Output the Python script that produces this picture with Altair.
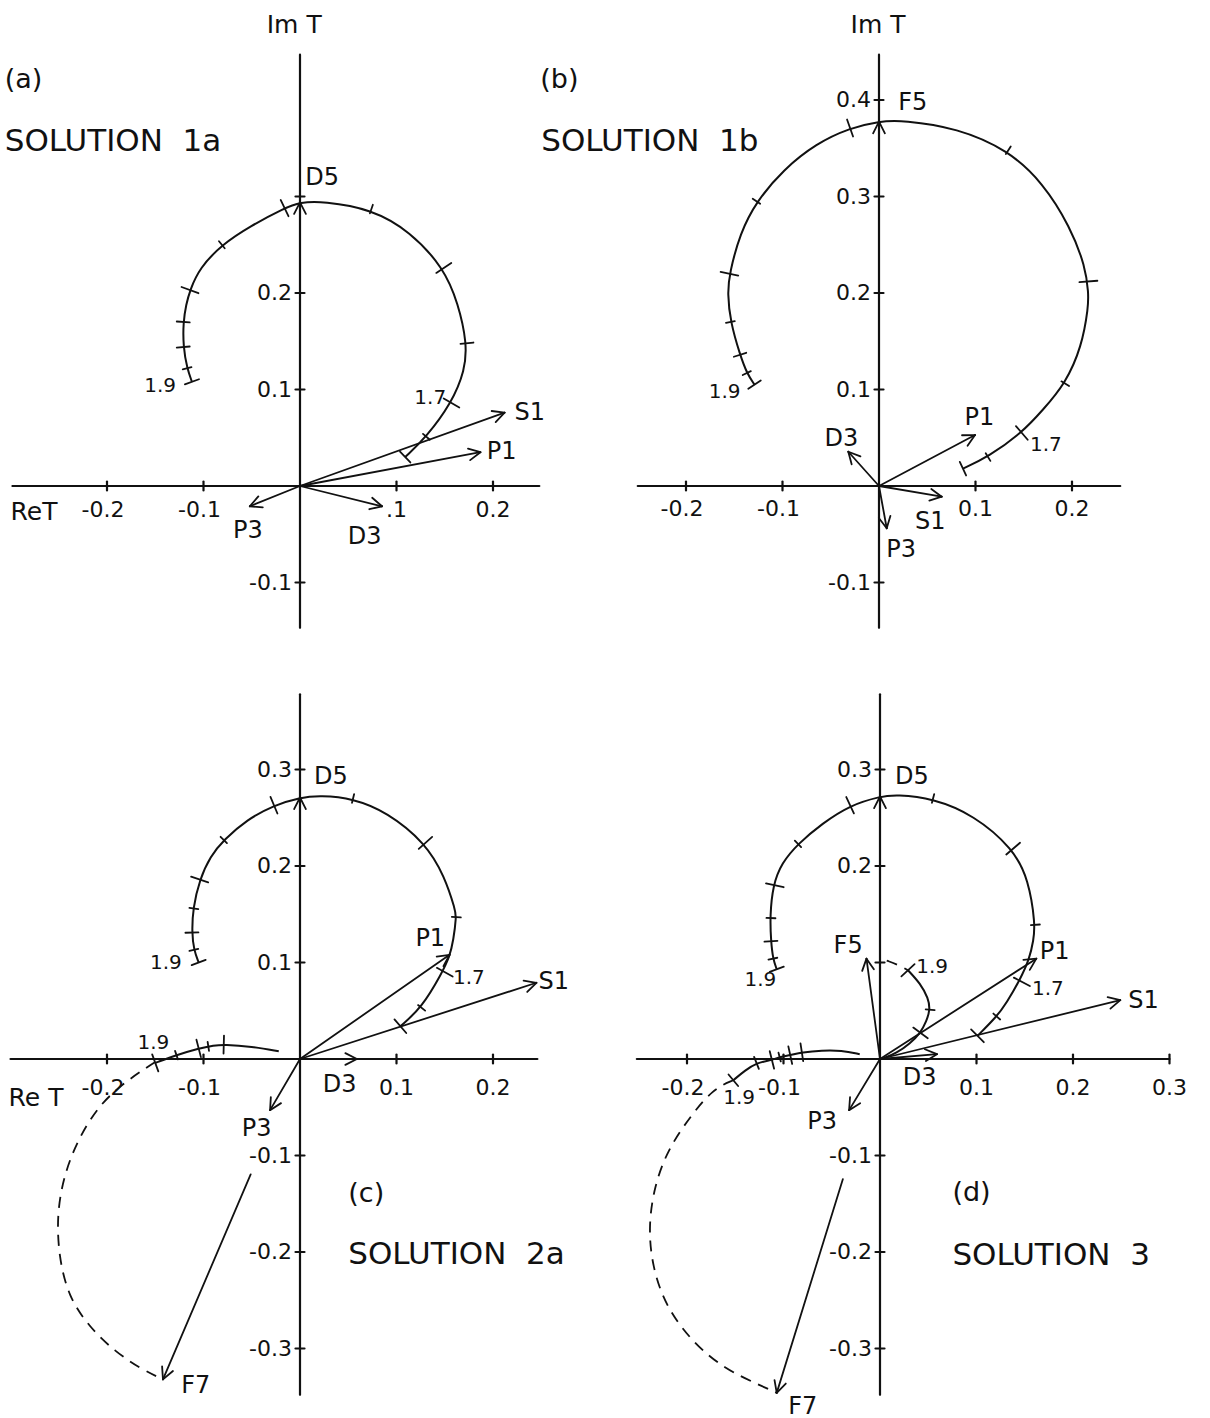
import math
import numpy as np
import pandas as pd
import altair as alt

PX = 965.0            # screen pixels per unit of T (same on both axes)
FONT = "DejaVu Sans"
INK = "#111111"

# ---------------- (a) SOLUTION 1a ----------------
a_xaxis = [-0.298, 0.248]
a_yaxis = [-0.147, 0.447]
a_xtick = [-0.2, -0.1, 0.1, 0.2]
a_xlab = ["-0.2", "-0.1", ".1", "0.2"]
a_ytick = [-0.1, 0.1, 0.2, 0.3]
a_ylab = ["-0.1", "0.1", "0.2", ""]

a_curve_x = [-0.112, -0.117, -0.121, -0.121, -0.118, -0.114, -0.104, -0.081, -0.052, -0.016, 0.000,
             0.024, 0.074, 0.114, 0.149, 0.164, 0.173, 0.171, 0.157, 0.131, 0.109]
a_curve_y = [0.108, 0.122, 0.144, 0.170, 0.188, 0.203, 0.226, 0.250, 0.269, 0.288, 0.294,
             0.295, 0.287, 0.264, 0.226, 0.189, 0.148, 0.120, 0.086, 0.051, 0.030]
a_tick_x = [-0.112, -0.117, -0.121, -0.121, -0.114, -0.081, -0.016, 0.074, 0.149, 0.173, 0.157, 0.131, 0.109]
a_tick_y = [0.108, 0.122, 0.144, 0.170, 0.203, 0.250, 0.288, 0.287, 0.226, 0.148, 0.086, 0.051, 0.030]
a_tick_k = ["e", "s", "m", "m", "l", "s", "l", "s", "l", "m", "l", "s", "e"]

a_vec_name = ["S1", "P1", "P3", "D3", "D5"]
a_vec_x = [0.212, 0.187, -0.052, 0.085, 0.000]
a_vec_y = [0.076, 0.035, -0.021, -0.021, 0.294]

a_vl_text = ["S1", "P1", "P3", "D3", "D5"]
a_vl_x = [0.238, 0.209, -0.054, 0.067, 0.023]
a_vl_y = [0.076, 0.035, -0.047, -0.053, 0.319]
a_el_text = ["1.9", "1.7"]
a_el_x = [-0.145, 0.135]
a_el_y = [0.104, 0.091]

# ---------------- (b) SOLUTION 1b ----------------
b_xaxis = [-0.250, 0.250]
b_yaxis = [-0.147, 0.447]
b_xtick = [-0.2, -0.1, 0.1, 0.2]
b_xlab = ["-0.2", "-0.1", "0.1", "0.2"]
b_ytick = [-0.1, 0.1, 0.2, 0.3, 0.4]
b_ylab = ["-0.1", "0.1", "0.2", "0.3", "0.4"]

b_curve_x = [-0.129, -0.137, -0.144, -0.154, -0.157, -0.155, -0.144, -0.127, -0.099, -0.065, -0.030, 0.000, 0.025,
             0.081, 0.134, 0.170, 0.198, 0.214, 0.217, 0.217, 0.210, 0.193, 0.170, 0.148, 0.113, 0.087]
b_curve_y = [0.105, 0.117, 0.136, 0.170, 0.200, 0.220, 0.262, 0.295, 0.328, 0.355, 0.371, 0.378, 0.379,
             0.371, 0.348, 0.314, 0.269, 0.227, 0.200, 0.186, 0.144, 0.106, 0.079, 0.055, 0.030, 0.018]
b_tick_x = [-0.129, -0.137, -0.144, -0.154, -0.155, -0.127, -0.030, 0.134, 0.217, 0.193, 0.148, 0.113, 0.087]
b_tick_y = [0.105, 0.117, 0.136, 0.170, 0.220, 0.295, 0.371, 0.348, 0.212, 0.106, 0.055, 0.030, 0.018]
b_tick_k = ["e", "s", "m", "s", "l", "s", "l", "s", "l", "s", "l", "s", "e"]

b_vec_name = ["F5", "P1", "D3", "S1", "P3"]
b_vec_x = [0.000, 0.0995, -0.0318, 0.065, 0.008]
b_vec_y = [0.3775, 0.0528, 0.0355, -0.0111, -0.0438]

b_vl_text = ["F5", "P1", "D3", "S1", "P3"]
b_vl_x = [0.035, 0.104, -0.039, 0.053, 0.023]
b_vl_y = [0.397, 0.070, 0.049, -0.037, -0.066]
b_el_text = ["1.9", "1.7"]
b_el_x = [-0.160, 0.173]
b_el_y = [0.097, 0.042]

# ---------------- (c) SOLUTION 2a ----------------
c_xaxis = [-0.300, 0.246]
c_yaxis = [-0.348, 0.378]
c_xtick = [-0.2, -0.1, 0.1, 0.2]
c_xlab = ["-0.2", "-0.1", "0.1", "0.2"]
c_ytick = [-0.3, -0.2, -0.1, 0.1, 0.2, 0.3]
c_ylab = ["-0.3", "-0.2", "-0.1", "0.1", "0.2", "0.3"]

c_curve_x = [-0.105, -0.110, -0.112, -0.111, -0.104, -0.093, -0.079, -0.055, -0.027, 0.000, 0.021,
             0.055, 0.090, 0.130, 0.150, 0.161, 0.162, 0.159, 0.155, 0.147, 0.126, 0.104]
c_curve_y = [0.100, 0.113, 0.131, 0.156, 0.186, 0.210, 0.227, 0.248, 0.263, 0.271, 0.273,
             0.270, 0.256, 0.224, 0.189, 0.154, 0.148, 0.123, 0.106, 0.089, 0.053, 0.034]
c_tick_x = [-0.105, -0.110, -0.112, -0.110, -0.104, -0.079, -0.027, 0.055, 0.130, 0.162, 0.150, 0.126, 0.104]
c_tick_y = [0.100, 0.113, 0.131, 0.156, 0.186, 0.227, 0.263, 0.270, 0.224, 0.147, 0.090, 0.053, 0.034]
c_tick_k = ["e", "s", "m", "s", "l", "s", "l", "s", "l", "s", "l", "s", "l"]

# low branch near the real axis, solid part and dashed continuation to F7
c_low_x = [-0.150, -0.128, -0.105, -0.089, -0.079, -0.050, -0.022]
c_low_y = [-0.004, 0.004, 0.011, 0.014, 0.015, 0.013, 0.008]
c_low_tx = [-0.150, -0.128, -0.105, -0.095, -0.079]
c_low_ty = [-0.004, 0.004, 0.011, 0.013, 0.015]
c_low_tk = ["l", "s", "l", "s", "l"]
c_dash_x = [-0.150, -0.179, -0.207, -0.229, -0.244, -0.252, -0.250, -0.240, -0.219, -0.192, -0.165, -0.142]
c_dash_y = [-0.003, -0.022, -0.046, -0.081, -0.118, -0.160, -0.205, -0.246, -0.277, -0.303, -0.321, -0.332]

c_vec_name = ["D5", "P1", "S1", "D3", "P3", "F7"]
c_vec_x = [0.000, 0.155, 0.245, 0.059, -0.031, -0.142]
c_vec_y = [0.271, 0.108, 0.079, 0.000, -0.053, -0.332]

c_vl_text = ["D5", "P1", "S1", "D3", "P3", "F7"]
c_vl_x = [0.032, 0.135, 0.263, 0.041, -0.045, -0.108]
c_vl_y = [0.292, 0.124, 0.080, -0.027, -0.073, -0.339]
c_el_text = ["1.9", "1.9", "1.7"]
c_el_x = [-0.139, -0.152, 0.175]
c_el_y = [0.099, 0.017, 0.084]

# ---------------- (d) SOLUTION 3 ----------------
d_xaxis = [-0.252, 0.300]
d_yaxis = [-0.348, 0.378]
d_xtick = [-0.2, -0.1, 0.1, 0.2, 0.3]
d_xlab = ["-0.2", "-0.1", "0.1", "0.2", "0.3"]
d_ytick = [-0.3, -0.2, -0.1, 0.1, 0.2, 0.3]
d_ylab = ["-0.3", "-0.2", "-0.1", "", "0.2", "0.3"]

d_curve_x = [-0.107, -0.111, -0.113, -0.114, -0.111, -0.102, -0.085, -0.060, -0.031, 0.000, 0.017,
             0.055, 0.097, 0.138, 0.154, 0.161, 0.159, 0.155, 0.145, 0.131, 0.121, 0.101]
d_curve_y = [0.093, 0.104, 0.123, 0.148, 0.180, 0.203, 0.223, 0.244, 0.263, 0.272, 0.274,
             0.270, 0.253, 0.218, 0.186, 0.139, 0.123, 0.104, 0.082, 0.058, 0.044, 0.024]
d_tick_x = [-0.107, -0.111, -0.113, -0.113, -0.109, -0.085, -0.031, 0.055, 0.138, 0.161, 0.147, 0.121, 0.101]
d_tick_y = [0.093, 0.104, 0.122, 0.146, 0.180, 0.223, 0.263, 0.270, 0.218, 0.139, 0.080, 0.044, 0.024]
d_tick_k = ["e", "s", "m", "s", "l", "s", "l", "s", "l", "s", "l", "s", "l"]

d_low_x = [-0.152, -0.140, -0.128, -0.112, -0.104, -0.093, -0.081, -0.060, -0.040, -0.021]
d_low_y = [-0.022, -0.012, -0.004, -0.001, 0.002, 0.004, 0.007, 0.009, 0.009, 0.005]
d_low_tx = [-0.152, -0.128, -0.112, -0.104, -0.093, -0.081]
d_low_ty = [-0.022, -0.004, -0.001, 0.002, 0.004, 0.007]
d_low_tk = ["e", "m", "l", "s", "l", "l"]
d_dash_x = [-0.152, -0.173, -0.197, -0.220, -0.234, -0.240, -0.236, -0.222, -0.193, -0.161, -0.129, -0.107]
d_dash_y = [-0.022, -0.031, -0.060, -0.094, -0.132, -0.174, -0.215, -0.257, -0.295, -0.321, -0.336, -0.346]

# small loop near the origin (F5 trajectory)
d_loop_x = [0.029, 0.042, 0.050, 0.052, 0.048, 0.042, 0.031, 0.017, 0.004]
d_loop_y = [0.092, 0.078, 0.063, 0.051, 0.039, 0.027, 0.016, 0.006, 0.001]
d_loop_tx = [0.029, 0.052, 0.042]
d_loop_ty = [0.092, 0.051, 0.027]
d_loop_tk = ["l", "s", "l"]
d_loopdash_x = [0.007, 0.018, 0.029]
d_loopdash_y = [0.102, 0.098, 0.092]

d_vec_name = ["D5", "P1", "S1", "F5", "D3", "P3", "F7"]
d_vec_x = [0.000, 0.162, 0.249, -0.014, 0.059, -0.032, -0.107]
d_vec_y = [0.272, 0.104, 0.061, 0.104, 0.005, -0.053, -0.346]

d_vl_text = ["D5", "P1", "S1", "F5", "D3", "P3", "F7"]
d_vl_x = [0.033, 0.181, 0.273, -0.033, 0.041, -0.060, -0.080]
d_vl_y = [0.292, 0.111, 0.060, 0.117, -0.020, -0.065, -0.361]
d_el_text = ["1.7", "1.9", "1.9", "1.9"]
d_el_x = [0.174, 0.054, -0.124, -0.146]
d_el_y = [0.073, 0.095, 0.082, -0.040]

# F7 arrows are drawn only over their outer part
VEC_FROM = {"F7": 0.36}

# ---------------- geometry helpers ----------------
HALF = {"s": 4.5, "m": 6.5, "l": 9.0, "e": 7.5}   # half-length of curve ticks, px


def normal_at(cx, cy, px, py):
    pts = np.column_stack([cx, cy])
    i = int(np.argmin(np.hypot(pts[:, 0] - px, pts[:, 1] - py)))
    a = pts[max(i - 1, 0)]
    b = pts[min(i + 1, len(pts) - 1)]
    t = (b - a) / np.hypot(*(b - a))
    return np.array([-t[1], t[0]])


def tick_rows(cx, cy, tx, ty, kinds):
    rows = []
    for px_, py_, k in zip(tx, ty, kinds):
        n = normal_at(cx, cy, px_, py_) * HALF[k] / PX
        rows.append((px_ - n[0], py_ - n[1], px_ + n[0], py_ + n[1]))
    return rows


def axis_rows(xr, yr, xt, yt):
    h = 4.5 / PX
    rows = [(xr[0], 0.0, xr[1], 0.0), (0.0, yr[0], 0.0, yr[1])]
    rows += [(v, -h, v, h) for v in xt]
    rows += [(-h, v, h, v) for v in yt]
    return rows


def vector_rows(names, vx, vy):
    shafts, heads = [], []
    length, ang = 13.0 / PX, math.radians(27)
    for n, x1, y1 in zip(names, vx, vy):
        f = VEC_FROM.get(n, 0.0)
        shafts.append((x1 * f, y1 * f, x1, y1))
        d = np.array([x1, y1]) / math.hypot(x1, y1)
        for s in (1, -1):
            c, si = math.cos(s * ang), math.sin(s * ang)
            r = np.array([d[0] * c - d[1] * si, d[0] * si + d[1] * c])
            heads.append((x1, y1, x1 - r[0] * length, y1 - r[1] * length))
    return shafts, heads


# ---------------- panel builder ----------------
def panel(p):
    W, H = p["size"]
    ox, oy = p["origin"]
    xs = alt.Scale(domain=[-ox / PX, (W - ox) / PX], nice=False, zero=False)
    ys = alt.Scale(domain=[-(H - oy) / PX, oy / PX], nice=False, zero=False)

    def enc(**extra):
        return dict(x=alt.X("x:Q", scale=xs, axis=None),
                    y=alt.Y("y:Q", scale=ys, axis=None), **extra)

    def rules(rows, width):
        df = pd.DataFrame(rows, columns=["x", "y", "x2", "y2"])
        return alt.Chart(df).mark_rule(color=INK, strokeWidth=width, strokeCap="round").encode(
            **enc(x2=alt.X2("x2"), y2=alt.Y2("y2")))

    def lines(curves, dash=None, width=2.0):
        rows = []
        for cid, (cx, cy) in enumerate(curves):
            for i, (a, b) in enumerate(zip(cx, cy)):
                rows.append((a, b, i, cid))
        df = pd.DataFrame(rows, columns=["x", "y", "i", "cid"])
        kw = dict(color=INK, strokeWidth=width, interpolate="basis")
        if dash:
            kw["strokeDash"] = dash
        return alt.Chart(df).mark_line(**kw).encode(
            **enc(order=alt.Order("i:Q"), detail=alt.Detail("cid:N")))

    def texts(t, x, y, size, align="center", dx=0, dy=0):
        df = pd.DataFrame({"t": t, "x": x, "y": y})
        return alt.Chart(df).mark_text(font=FONT, fontSize=size, align=align, baseline="middle",
                                       dx=dx, dy=dy, color=INK).encode(**enc(text="t:N"))

    layers = [rules(axis_rows(p["xaxis"], p["yaxis"], p["xtick"], p["ytick"]), 2.2)]
    layers.append(lines(p["solid"]))
    if p.get("dashed"):
        layers.append(lines(p["dashed"], dash=[11, 8], width=1.8))
    trows = []
    for cx, cy, tx, ty, tk in p["ticks"]:
        trows += tick_rows(cx, cy, tx, ty, tk)
    layers.append(rules(trows, 1.8))
    shafts, heads = vector_rows(*p["vectors"])
    layers.append(rules(shafts, 1.8))
    layers.append(rules(heads, 1.8))

    # axis numbers
    neg = [(v, s) for v, s in zip(p["xtick"], p["xlab"]) if s and v < 0]
    pos = [(v, s) for v, s in zip(p["xtick"], p["xlab"]) if s and v > 0]
    layers.append(texts([s for _, s in neg], [v for v, _ in neg], [0.0] * len(neg), 22, dx=-4, dy=p["xlab_dy"]))
    layers.append(texts([s for _, s in pos], [v for v, _ in pos], [0.0] * len(pos), 22, dy=p["xlab_dy"]))
    yl = [(v, s) for v, s in zip(p["ytick"], p["ylab"]) if s]
    layers.append(texts([s for _, s in yl], [0.0] * len(yl), [v for v, _ in yl], 22, align="right", dx=-8))

    # wave labels and energy marks
    layers.append(texts(*p["vlabels"], 24))
    layers.append(texts(*p["elabels"], 20))

    # titles
    for t, x, y, size, align in p["titles"]:
        layers.append(texts([t], [x], [y], size, align=align))

    return alt.layer(*layers).properties(width=W, height=H)


pa = panel(dict(
    size=(590, 680), origin=(300, 486),
    xaxis=a_xaxis, yaxis=a_yaxis, xtick=a_xtick, xlab=a_xlab, ytick=a_ytick, ylab=a_ylab, xlab_dy=24,
    solid=[(a_curve_x, a_curve_y)],
    ticks=[(a_curve_x, a_curve_y, a_tick_x, a_tick_y, a_tick_k)],
    vectors=(a_vec_name, a_vec_x, a_vec_y),
    vlabels=(a_vl_text, a_vl_x, a_vl_y), elabels=(a_el_text, a_el_x, a_el_y),
    titles=[("Im T", -0.006, 0.478, 25, "center"), ("(a)", -0.306, 0.421, 27, "left"),
            ("SOLUTION \u00a01a", -0.306, 0.356, 31, "left"), ("ReT", -0.300, -0.027, 25, "left")],
))

pb = panel(dict(
    size=(620, 680), origin=(289, 486),
    xaxis=b_xaxis, yaxis=b_yaxis, xtick=b_xtick, xlab=b_xlab, ytick=b_ytick, ylab=b_ylab, xlab_dy=23,
    solid=[(b_curve_x, b_curve_y)],
    ticks=[(b_curve_x, b_curve_y, b_tick_x, b_tick_y, b_tick_k)],
    vectors=(b_vec_name, b_vec_x, b_vec_y),
    vlabels=(b_vl_text, b_vl_x, b_vl_y), elabels=(b_el_text, b_el_x, b_el_y),
    titles=[("Im T", -0.001, 0.478, 25, "center"), ("(b)", -0.351, 0.421, 27, "left"),
            ("SOLUTION \u00a01b", -0.350, 0.356, 31, "left")],
))

pc = panel(dict(
    size=(590, 738), origin=(300, 379),
    xaxis=c_xaxis, yaxis=c_yaxis, xtick=c_xtick, xlab=c_xlab, ytick=c_ytick, ylab=c_ylab, xlab_dy=29,
    solid=[(c_curve_x, c_curve_y), (c_low_x, c_low_y)],
    dashed=[(c_dash_x, c_dash_y)],
    ticks=[(c_curve_x, c_curve_y, c_tick_x, c_tick_y, c_tick_k),
           (c_low_x, c_low_y, c_low_tx, c_low_ty, c_low_tk)],
    vectors=(c_vec_name, c_vec_x, c_vec_y),
    vlabels=(c_vl_text, c_vl_x, c_vl_y), elabels=(c_el_text, c_el_x, c_el_y),
    titles=[("(c)", 0.050, -0.140, 27, "left"), ("SOLUTION \u00a02a", 0.050, -0.203, 31, "left"),
            ("Re T", -0.302, -0.040, 25, "left")],
))

pd_ = panel(dict(
    size=(620, 738), origin=(290, 379),
    xaxis=d_xaxis, yaxis=d_yaxis, xtick=d_xtick, xlab=d_xlab, ytick=d_ytick, ylab=d_ylab, xlab_dy=29,
    solid=[(d_curve_x, d_curve_y), (d_low_x, d_low_y), (d_loop_x, d_loop_y)],
    dashed=[(d_dash_x, d_dash_y), (d_loopdash_x, d_loopdash_y)],
    ticks=[(d_curve_x, d_curve_y, d_tick_x, d_tick_y, d_tick_k),
           (d_low_x, d_low_y, d_low_tx, d_low_ty, d_low_tk),
           (d_loop_x, d_loop_y, d_loop_tx, d_loop_ty, d_loop_tk)],
    vectors=(d_vec_name, d_vec_x, d_vec_y),
    vlabels=(d_vl_text, d_vl_x, d_vl_y), elabels=(d_el_text, d_el_x, d_el_y),
    titles=[("(d)", 0.075, -0.139, 27, "left"), ("SOLUTION \u00a03", 0.075, -0.204, 31, "left")],
))

# 2 x 2 grid of panels, laid out by their plot sizes only
chart = alt.concat(pa, pb, pc, pd_, columns=2, spacing=0, bounds="flush").properties(
    padding=0, background="white"
).configure_view(strokeWidth=0)

chart.save("out.html", embed_options={"renderer": "svg", "actions": False})
